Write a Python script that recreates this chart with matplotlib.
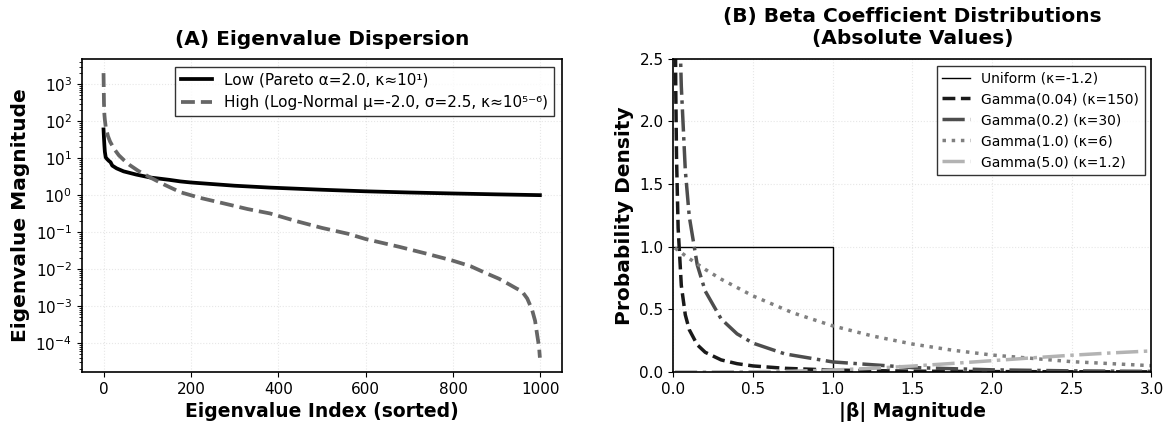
import matplotlib
matplotlib.use("Agg")
import matplotlib.pyplot as plt
from matplotlib.ticker import LogLocator, NullFormatter

# ---- Panel A data: sorted eigenvalues ----
low_idx = [0, 1, 2, 3, 5, 8, 12, 16, 20, 30, 46, 75, 107, 150, 176, 200, 300, 381, 500, 600, 700, 800, 900, 999]
low_val = [60, 35, 22, 15, 10.5, 9.5, 8.5, 7.8, 6.3, 5.3, 4.4, 3.6, 3.0, 2.6, 2.35, 2.2, 1.8, 1.6, 1.4, 1.27, 1.18, 1.11, 1.05, 1.0]

high_idx = [0, 1, 2, 3, 5, 10, 15, 24, 35, 46, 60, 80, 107, 140, 176, 220, 280, 330, 381, 440, 500, 560, 600,
            677, 740, 799, 840, 875, 905, 928, 945, 958, 970, 981, 988, 993, 997, 999]
high_val = [2000, 300, 150, 110, 70, 40, 28, 18, 12, 9, 6.5, 4.5, 3.0, 1.9, 1.2, 0.85, 0.58, 0.42, 0.32, 0.2, 0.13,
            0.09, 0.065, 0.04, 0.026, 0.017, 0.012, 0.0078, 0.0055, 0.0039, 0.003, 0.0025, 0.0016, 8e-4, 4e-4,
            1.6e-4, 8e-5, 4e-5]

# ---- Panel B data: densities of |beta| ----
unif_x = [0.0, 1.0, 1.0, 3.0]
unif_y = [1.0, 1.0, 0.0, 0.0]

g004_x = [0.01, 0.015, 0.02, 0.03, 0.05, 0.075, 0.1, 0.15, 0.2, 0.3, 0.4, 0.5, 0.7, 1.0, 1.5, 2.0, 2.5, 3.0]
g004_y = [3.37, 2.27, 1.71, 1.15, 0.69, 0.456, 0.337, 0.217, 0.157, 0.096, 0.066, 0.048, 0.029, 0.015,
          0.0062, 0.0028, 0.0014, 0.0007]

g02_x = [0.03, 0.04, 0.05, 0.075, 0.1, 0.15, 0.2, 0.3, 0.4, 0.5, 0.7, 1.0, 1.5, 2.0, 2.5, 3.0]
g02_y = [3.49, 2.75, 2.28, 1.61, 1.24, 0.855, 0.646, 0.423, 0.304, 0.23, 0.144, 0.08, 0.035, 0.017, 0.0086, 0.0045]

g1_x = [0.01, 0.1, 0.2, 0.3, 0.5, 0.75, 1.0, 1.25, 1.5, 1.75, 2.0, 2.5, 3.0]
g1_y = [0.99, 0.905, 0.819, 0.741, 0.607, 0.472, 0.368, 0.287, 0.223, 0.174, 0.135, 0.082, 0.05]

g5_x = [0.01, 0.25, 0.5, 0.75, 1.0, 1.25, 1.5, 1.75, 2.0, 2.25, 2.5, 2.75, 3.0]
g5_y = [0.0, 0.0001, 0.0016, 0.0061, 0.0153, 0.0291, 0.047, 0.0679, 0.09, 0.1125, 0.1336, 0.152, 0.168]

fig = plt.figure(figsize=(11.69, 4.33), dpi=100)
ax1 = fig.add_axes([0.0699, 0.141, 0.4106, 0.723])
ax2 = fig.add_axes([0.576, 0.141, 0.409, 0.723])

# Panel A
ax1.plot(low_idx, low_val, color="black", lw=2.7, label="Low (Pareto α=2.0, κ≈10¹)")
ax1.plot(high_idx, high_val, color="#666666", lw=2.7, ls="--", label="High (Log-Normal μ=-2.0, σ=2.5, κ≈10⁵⁻⁶)")
ax1.set_yscale("log")
ax1.yaxis.set_major_locator(LogLocator(base=10, numticks=20))
ax1.yaxis.set_minor_locator(LogLocator(base=10, subs=range(2, 10), numticks=100))
ax1.yaxis.set_minor_formatter(NullFormatter())
ax1.set_xlabel("Eigenvalue Index (sorted)", fontsize=13.5, fontweight="bold")
ax1.set_ylabel("Eigenvalue Magnitude", fontsize=14.5, fontweight="bold")
ax1.set_title("(A) Eigenvalue Dispersion", fontsize=14.5, fontweight="bold", pad=10)
leg1 = ax1.legend(loc="upper right", fontsize=11, fancybox=False, edgecolor="black")
leg1.get_frame().set_linewidth(1.0)
ax1.grid(True, ls=":", alpha=0.3)

# Panel B
ax2.plot(unif_x, unif_y, color="black", lw=1, label="Uniform (κ=-1.2)")
ax2.plot(g004_x, g004_y, color="#1a1a1a", lw=2.5, ls="--", label="Gamma(0.04) (κ=150)")
ax2.plot(g02_x, g02_y, color="#4d4d4d", lw=2.5, ls="-.", label="Gamma(0.2) (κ=30)")
ax2.plot(g1_x, g1_y, color="#808080", lw=2.5, ls=":", label="Gamma(1.0) (κ=6)")
ax2.plot(g5_x, g5_y, color="#b3b3b3", lw=2.5, ls="-.", label="Gamma(5.0) (κ=1.2)")
ax2.set_xlim(0, 3.0)
ax2.set_ylim(0, 2.5)
ax2.set_xlabel("|β| Magnitude", fontsize=13.5, fontweight="bold")
ax2.set_ylabel("Probability Density", fontsize=14.5, fontweight="bold")
ax2.set_title("(B) Beta Coefficient Distributions\n(Absolute Values)", fontsize=14.5, fontweight="bold", pad=11)
leg2 = ax2.legend(loc="upper right", fontsize=10, fancybox=False, edgecolor="black")
leg2.get_frame().set_linewidth(1.0)
ax2.grid(True, ls=":", alpha=0.3)

for ax in (ax1, ax2):
    ax.tick_params(labelsize=11)
    for s in ax.spines.values():
        s.set_linewidth(1.2)

fig.savefig("out.png", dpi=100)
